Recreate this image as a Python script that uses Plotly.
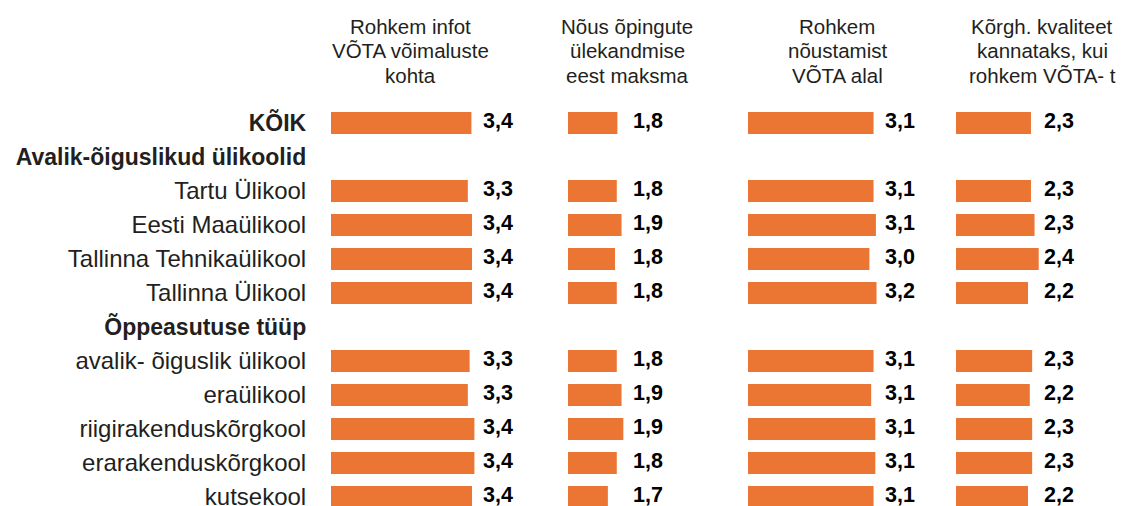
import plotly.graph_objects as go

# ---------------- data ----------------
categories = [
    "KÕIK",
    "Avalik-õiguslikud ülikoolid",
    "Tartu Ülikool",
    "Eesti Maaülikool",
    "Tallinna Tehnikaülikool",
    "Tallinna Ülikool",
    "Õppeasutuse tüüp",
    "avalik- õiguslik ülikool",
    "eraülikool",
    "riigirakenduskõrgkool",
    "erarakenduskõrgkool",
    "kutsekool",
]
bold_rows = ["KÕIK", "Avalik-õiguslikud ülikoolid", "Õppeasutuse tüüp"]

panel_titles = [
    ["Rohkem infot", "VÕTA võimaluste", "kohta"],
    ["Nõus õpingute", "ülekandmise", "eest maksma"],
    ["Rohkem", "nõustamist", "VÕTA alal"],
    ["Kõrgh. kvaliteet", "kannataks, kui", "rohkem VÕTA- t"],
]

more_info = [3.36, None, 3.30, 3.37, 3.37, 3.37, None, 3.33, 3.30, 3.41, 3.41, 3.37]
willing_to_pay = [1.83, None, 1.82, 1.90, 1.79, 1.82, None, 1.82, 1.90, 1.93, 1.82, 1.67]
more_counselling = [3.11, None, 3.11, 3.15, 3.04, 3.16, None, 3.11, 3.07, 3.14, 3.14, 3.11]
quality_suffers = [2.26, None, 2.26, 2.32, 2.39, 2.21, None, 2.28, 2.24, 2.28, 2.28, 2.21]

series = [more_info, willing_to_pay, more_counselling, quality_suffers]

# ---------------- layout helpers (screen pixels) ----------------
W, H = 1127, 506
OFF = 8                      # page body margin of the html page
ROW_PX = 34.0
FIRST_ROW_CENTER = 123       # screen y of first row centre
TOP = FIRST_ROW_CENTER - ROW_PX / 2 - OFF   # figure top margin
PX_PER_UNIT = 59.5
AXIS_MIN = 1
panel_px = [(331, 566), (568, 746), (748, 954), (956, 1127)]
label_right_px = [513, 663, 915, 1074]
title_center_px = [410, 627, 837, 1042]
title_line_y = [26, 50.5, 75]

BAR_COLOR = "#EB7533"
TEXT_COLOR = "#231F20"
FONT = "Liberation Sans, Arial, sans-serif"


def fmt(v):
    return f"{v:.1f}".replace(".", ",")


fig = go.Figure()

for i, vals in enumerate(series):
    xa = "x" if i == 0 else f"x{i + 1}"
    fig.add_trace(go.Bar(
        y=categories, x=vals, orientation="h",
        marker=dict(color=BAR_COLOR, line=dict(width=0)),
        width=0.65, xaxis=xa, yaxis="y", hoverinfo="skip", showlegend=False,
    ))
    p0 = panel_px[i][0]
    lx = AXIS_MIN + (label_right_px[i] - p0) / PX_PER_UNIT
    ys = [c for c, v in zip(categories, vals) if v is not None]
    txt = [fmt(v) for v in vals if v is not None]
    fig.add_trace(go.Scatter(
        y=ys, x=[lx] * len(ys), mode="text", text=txt,
        textposition="middle left",
        textfont=dict(family=FONT, size=21.5, color="#000000", weight="bold"),
        xaxis=xa, yaxis="y", hoverinfo="skip", showlegend=False, cliponaxis=False,
    ))

layout_axes = {}
for i, (a, b) in enumerate(panel_px):
    key = "xaxis" if i == 0 else f"xaxis{i + 1}"
    rng = [AXIS_MIN, AXIS_MIN + (b - a) / PX_PER_UNIT]
    layout_axes[key] = dict(
        domain=[(a - OFF) / W, min(1.0, (b - OFF) / W)], range=rng, visible=False,
        showgrid=False, zeroline=False, anchor="y", fixedrange=True,
    )

ticktext = [
    f'<span style="font-size:23px"><b>{c}</b></span>' if c in bold_rows else c
    for c in categories
]
plot_h = H - TOP
rows_visible = plot_h / ROW_PX

fig.update_layout(
    width=W, height=H,
    margin=dict(l=0, r=0, t=TOP, b=0, pad=0),
    paper_bgcolor="white", plot_bgcolor="white",
    barmode="overlay",
    font=dict(family=FONT, color=TEXT_COLOR),
    yaxis=dict(
        type="category", categoryorder="array", categoryarray=categories,
        tickvals=categories, ticktext=ticktext,
        range=[-0.5 + rows_visible, -0.5],
        tickfont=dict(family=FONT, size=24, color=TEXT_COLOR),
        ticks="outside", ticklen=19, tickcolor="rgba(0,0,0,0)",
        showgrid=False, zeroline=False, showline=False,
        automargin=False, anchor="x", fixedrange=True,
    ),
    **layout_axes,
)

for lines, cx in zip(panel_titles, title_center_px):
    for line, ly in zip(lines, title_line_y):
        fig.add_annotation(
            x=(cx - OFF) / W, xref="paper", y=1 + (TOP - (ly - OFF)) / plot_h, yref="paper",
            text=line, showarrow=False, xanchor="center", yanchor="middle",
            align="center", font=dict(family=FONT, size=20.5, color=TEXT_COLOR),
        )

fig.write_html("out.html")
